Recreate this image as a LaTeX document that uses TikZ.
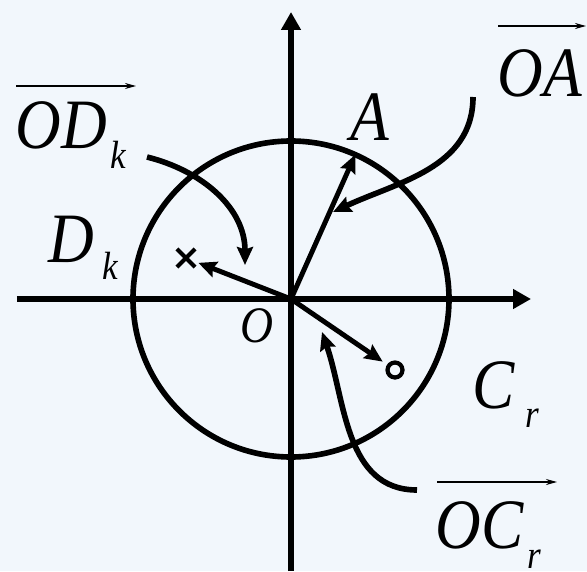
\documentclass[tikz,border=0pt]{standalone}
\usepackage{fontspec}
\setmainfont{Liberation Serif}
\usetikzlibrary{arrows.meta,calc,shapes.misc}

\definecolor{bgblue}{RGB}{242,247,252}
\newcommand{\tall}[1]{\scalebox{1}[1.12]{#1}}

\begin{document}
\begin{tikzpicture}[
  ax/.style={line width=3.2pt,-{Triangle[length=0.36cm,width=0.38cm]}},
  vec/.style={line width=2.8pt,-{Stealth[length=0.36cm,width=0.32cm,inset=0.05cm]}},
  ptr/.style={line width=3.2pt,-{Stealth[length=0.36cm,width=0.32cm,inset=0.05cm]}},
  ov/.style={line width=0.8pt,-{Stealth[length=0.22cm,width=0.12cm]}},
  lb/.style={inner sep=0,anchor=base west,font=\fontsize{36}{40}\selectfont\itshape},
  sb/.style={inner sep=0,anchor=base west,font=\fontsize{20}{22}\selectfont\itshape}]
 % background
 \fill[bgblue] (0,0) rectangle (11.74,11.42);
 \useasboundingbox (0,0) rectangle (11.74,11.42);
 % axes and circle
 \coordinate (O) at (5.82,5.44);
 \coordinate (xs) at (0.34,5.44);
 \coordinate (xe) at (10.62,5.44);
 \coordinate (ys) at (5.82,0);
 \coordinate (ye) at (5.82,11.18);
 \draw[ax] (xs) -- (xe);
 \draw[ax] (ys) -- (ye);
 \draw[line width=3.2pt] (O) circle (3.16);
 % points
 \coordinate (A) at ($(O)+(66:3.16)$);
 \node[cross out,draw,line width=2.4pt,minimum size=0.28cm,inner sep=0] (Dk) at (3.72,6.26) {};
 \node[circle,draw,line width=2.4pt,minimum size=0.3cm,inner sep=0] (Cr) at (7.90,4.02) {};
 \draw[vec] (O) -- (A);
 \draw[vec,shorten >=2pt] (O) -- (Dk);
 \draw[vec,shorten >=3pt] (O) -- (Cr);
 % labels
 \node[lb] (lA) at (7.0,8.60) {\tall{A}};
 \node[lb] (lOA) at (9.94,9.48) {\tall{OA}};
 \node[lb] (lOD) at (0.30,8.44) {\tall{OD}};
 \node[sb] (lODk) at (2.20,8.06) {\tall{k}};
 \node[lb] (lD) at (0.96,6.18) {\tall{D}};
 \node[sb] (lDk) at (2.04,5.82) {\tall{k}};
 \node[inner sep=0,anchor=base west,font=\fontsize{26}{28}\selectfont\itshape] (lO) at (4.80,4.58) {\tall{O}};
 \node[lb] (lC) at (9.44,3.26) {\tall{C}};
 \node[sb] (lCr) at (10.50,2.88) {\tall{r}};
 \node[lb] (lOC) at (8.70,0.46) {\tall{OC}};
 \node[sb] (lOCr) at (10.54,0.06) {\tall{r}};
 % vector bars
 \coordinate (oa1) at (9.96,10.90);
 \coordinate (oa2) at (11.72,10.90);
 \coordinate (od1) at (0.32,9.70);
 \coordinate (od2) at (2.72,9.70);
 \coordinate (oc1) at (8.74,1.78);
 \coordinate (oc2) at (11.14,1.78);
 \draw[ov] (oa1) -- (oa2);
 \draw[ov] (od1) -- (od2);
 \draw[ov] (oc1) -- (oc2);
 % pointers
 \coordinate (p1) at (2.94,8.28);
 \coordinate (p1e) at (4.90,6.12);
 \coordinate (p2) at (9.46,9.48);
 \coordinate (p2e) at (6.66,7.18);
 \coordinate (p3) at (8.34,1.62);
 \coordinate (p3e) at (6.44,4.78);
 \draw[ptr] (p1) to[out=-14,in=90] (p1e);
 \draw[ptr] (p2) to[out=-90,in=25] (p2e);
 \draw[ptr] (p3) to[out=180,in=-71] (p3e);
\end{tikzpicture}
\end{document}
